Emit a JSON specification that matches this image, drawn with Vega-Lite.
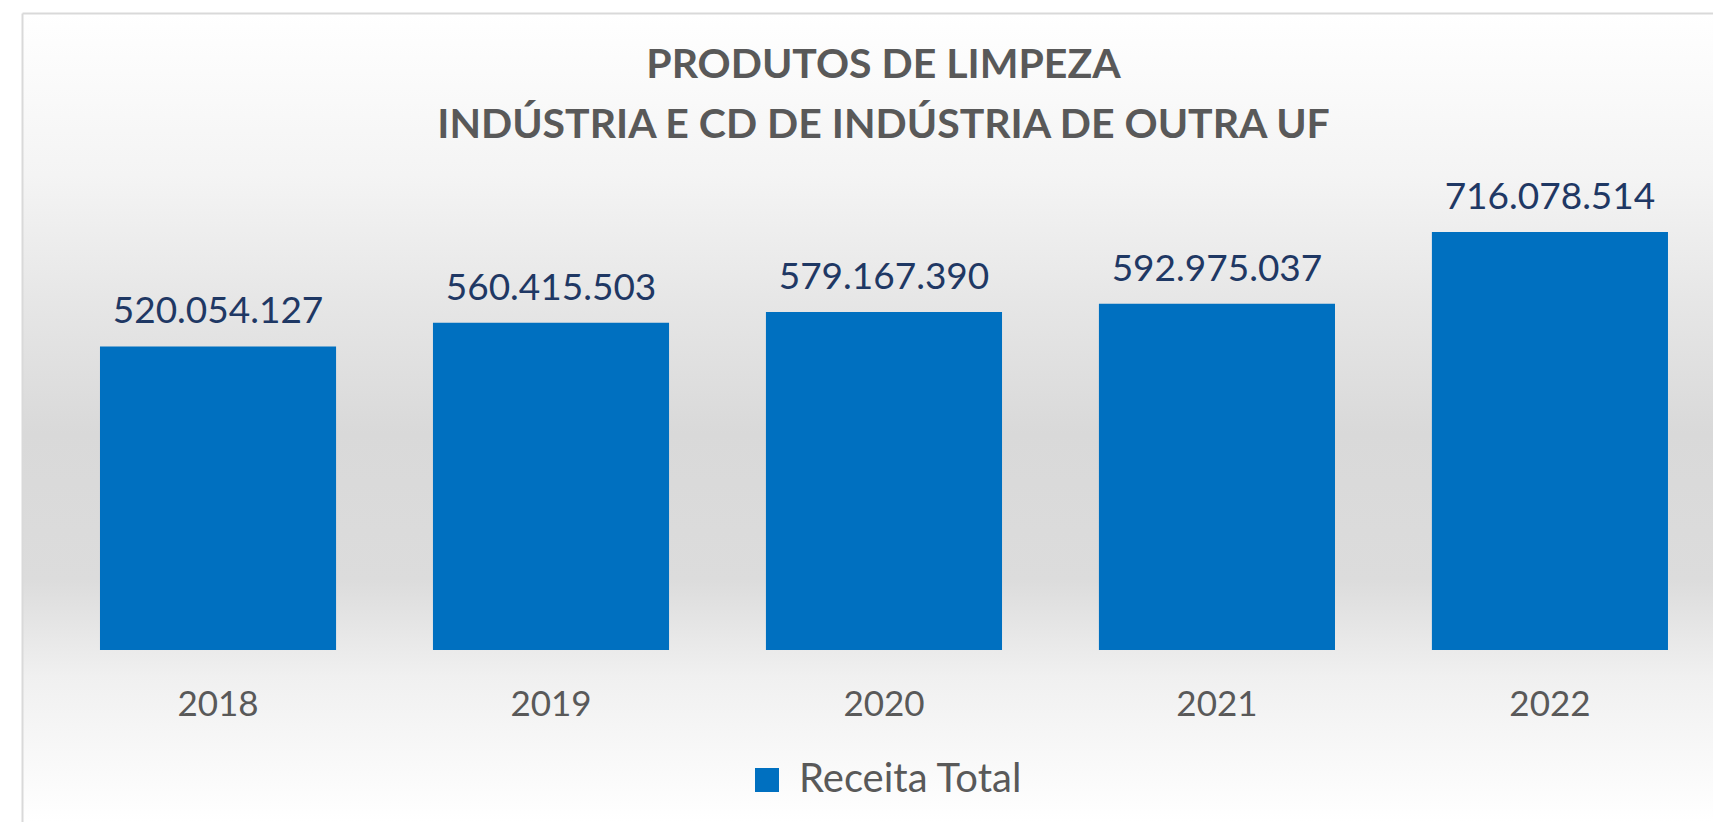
{
  "$schema": "https://vega.github.io/schema/vega-lite/v6.json",
  "width": 1691,
  "height": 809,
  "autosize": {"type": "none"},
  "padding": {"left": 22, "top": 13, "right": 0, "bottom": 0},
  "background": "#ffffff",
  "title": {
    "text": ["PRODUTOS DE LIMPEZA", "INDÚSTRIA E CD DE INDÚSTRIA DE OUTRA UF"],
    "font": "Lato",
    "fontSize": 41,
    "fontWeight": "bold",
    "color": "#595959",
    "lineHeight": 60,
    "anchor": "middle",
    "frame": "group",
    "baseline": "top",
    "orient": "top",
    "offset": -134,
    "dx": 16
  },
  "config": {
    "view": {"stroke": null},
    "locale": {"number": {"decimal": ",", "thousands": ".", "grouping": [3], "currency": ["R$", ""]}}
  },
  "data": {
    "values": [
      {"ano": "2018", "valor": 520054127, "serie": "Receita Total"},
      {"ano": "2019", "valor": 560415503, "serie": "Receita Total"},
      {"ano": "2020", "valor": 579167390, "serie": "Receita Total"},
      {"ano": "2021", "valor": 592975037, "serie": "Receita Total"},
      {"ano": "2022", "valor": 716078514, "serie": "Receita Total"}
    ]
  },
  "resolve": {"axis": {"x": "independent"}},
  "layer": [
    {
      "data": {"values": [{"fundo": "gradiente"}]},
      "mark": {
        "type": "rect",
        "fill": {
          "gradient": "linear",
          "x1": 0, "y1": 0, "x2": 0, "y2": 1,
          "stops": [
            {"offset": 0, "color": "#ffffff"},
            {"offset": 0.2, "color": "#f4f4f4"},
            {"offset": 0.36, "color": "#e6e6e6"},
            {"offset": 0.52, "color": "#d9d9d9"},
            {"offset": 0.7, "color": "#dcdcdc"},
            {"offset": 0.82, "color": "#f0f0f0"},
            {"offset": 1, "color": "#ffffff"}
          ]
        }
      },
      "encoding": {}
    },
    {
      "mark": {"type": "bar"},
      "encoding": {
        "x": {
          "field": "ano",
          "type": "ordinal",
          "scale": {"paddingInner": 0.291, "paddingOuter": 0.1847, "align": 0.634},
          "axis": {
            "title": null,
            "orient": "bottom",
            "offset": -172,
            "zindex": 1,
            "domain": false,
            "ticks": false,
            "tickSize": 0,
            "grid": false,
            "labelPadding": 65,
            "labelBaseline": "alphabetic",
            "labelFontSize": 35,
            "labelFont": "Lato",
            "labelColor": "#595959",
            "labelAngle": 0
          }
        },
        "y": {
          "field": "valor",
          "type": "quantitative",
          "scale": {"domain": [-294650000, 1091230000], "nice": false, "zero": false},
          "axis": {
            "title": null,
            "orient": "left",
            "zindex": 1,
            "domain": true,
            "domainColor": "#d9d9d9",
            "domainWidth": 2,
            "labels": false,
            "ticks": false,
            "grid": false
          }
        },
        "y2": {"datum": 0},
        "color": {
          "field": "serie",
          "type": "nominal",
          "scale": {"range": ["#0070c0"]},
          "legend": {
            "title": null,
            "orient": "none",
            "legendX": 725,
            "legendY": 747,
            "symbolType": "square",
            "symbolSize": 576,
            "symbolStrokeWidth": 0,
            "symbolOpacity": 1,
            "labelFontSize": 40,
            "labelFont": "Lato",
            "labelColor": "#595959",
            "labelOffset": 12,
            "labelLimit": 0
          }
        }
      }
    },
    {
      "mark": {"type": "text", "baseline": "alphabetic", "dy": -23, "fontSize": 37, "font": "Lato", "color": "#1f3864"},
      "encoding": {
        "x": {
          "field": "ano",
          "type": "ordinal",
          "axis": {
            "title": null,
            "orient": "top",
            "zindex": 1,
            "domain": true,
            "domainColor": "#d9d9d9",
            "domainWidth": 2,
            "labels": false,
            "ticks": false,
            "grid": false
          }
        },
        "y": {"field": "valor", "type": "quantitative"},
        "text": {"field": "valor", "type": "quantitative", "format": ",.0f"}
      }
    }
  ]
}
